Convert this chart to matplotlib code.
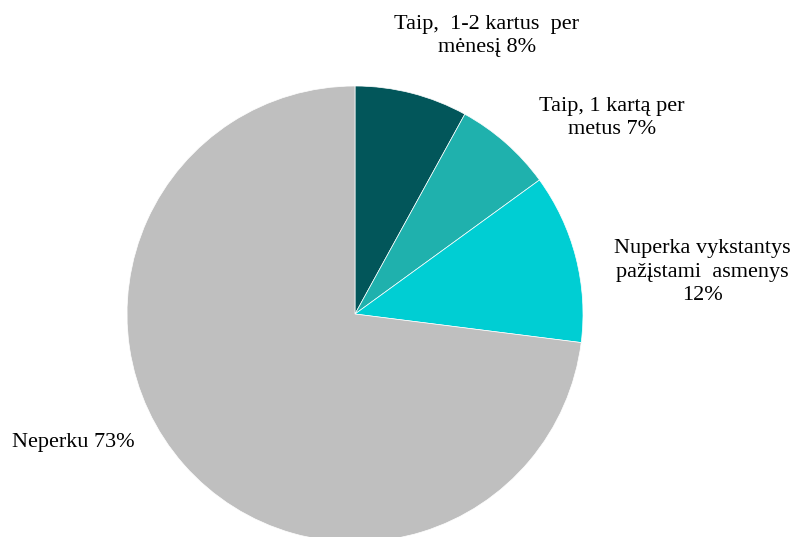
import matplotlib.pyplot as plt

# Data
categories = ['Taip,  1-2 kartus  per\nmėnesį ', 'Taip, 1 kartą per\nmetus ',
              'Nuperka vykstantys\npažįstami  asmenys\n', 'Neperku']
values = [8, 7, 12, 73]
colors = ['#02565a', '#1fb1ad', '#00ced3', '#bfbfbf']

plt.rcParams['font.family'] = ['Liberation Serif', 'DejaVu Serif']

fig = plt.figure(figsize=(7.94, 5.37), dpi=100)
ax = fig.add_axes([0, 0, 1, 1])

# Pie centred at pixel (355, 314) with a radius of 228 px
scale = 228
cx, cy = 355, 314

ax.pie(values, colors=colors, startangle=90, counterclock=False,
       radius=1, center=(0, 0), frame=True,
       wedgeprops=dict(linewidth=0.5, edgecolor='white'))
ax.set_xlim(-cx / scale, (794 - cx) / scale)
ax.set_ylim(-(537 - cy) / scale, cy / scale)
ax.set_aspect('auto')
ax.axis('off')

# Label positions (pixels) and alignments
label_px = [(487, 36, 'center'), (612, 118, 'center'),
            (702, 272, 'center'), (12, 443, 'left')]
for cat, val, (px, py, ha) in zip(categories, values, label_px):
    sep = '' if cat.endswith(('\n', ' ')) else ' '
    ax.text((px - cx) / scale, (cy - py) / scale, f'{cat}{sep}{val}%',
            ha=ha, va='center', fontsize=16, linespacing=1.3,
            multialignment='center')

fig.savefig('out.png', dpi=100)
